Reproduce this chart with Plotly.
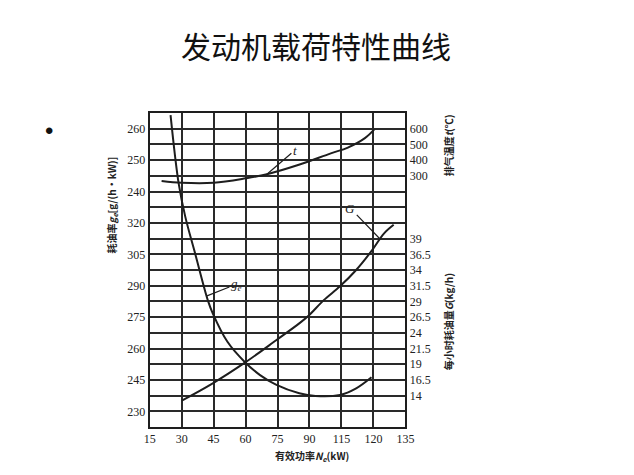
import plotly.graph_objects as go

# ---- data ----
x_ticks = [15, 30, 45, 60, 75, 90, 105, 120, 135]
x_ticktext = ["15", "30", "45", "60", "75", "90", "115", "120", "135"]

# exhaust temperature t (°C) vs effective power (kW)
t_power = [20.6, 30, 45, 60, 70, 85, 100, 108, 116, 120.4]
t_temp = [267, 256, 256, 284, 310, 370, 443, 480, 540, 596]

# specific fuel consumption ge (g/(kW·h))
ge_power = [24.8, 28.6, 31.7, 36.3, 42.3, 44.6, 51.5, 59.5, 66.8, 74.5, 85.2, 92.8, 104.3, 111.9, 119.1]
ge_value = [371.5, 338.9, 323, 305.5, 283, 276.8, 263.2, 253.7, 247.3, 242.6, 238.6, 237.3, 237.8, 241, 246.3]

# hourly fuel consumption G (kg/h)
G_power = [30.1, 44.6, 59.5, 74.5, 85.2, 89.8, 96.7, 104.3, 111.9, 119.5, 124.9, 129.5]
G_value = [13.2, 15.95, 19.2, 22.85, 25.5, 26.8, 29.2, 31.4, 34, 37.2, 39.8, 41.2]

left_tickvals = [230, 245, 260, 275, 290, 305, 320, 335, 350, 365]
left_ticktext = ["230", "245", "260", "275", "290", "305", "320", "240", "250", "260"]

right_tickvals = [11.5, 14, 16.5, 19, 21.5, 24, 26.5, 29, 31.5, 34, 36.5, 39, 41.5, 44, 46.5, 49, 51.5, 54, 56.5]
right_ticktext = ["", "14", "16.5", "19", "21.5", "24", "26.5", "29", "31.5", "34", "36.5", "39",
                  "", "", "", "300", "400", "500", "600"]

# page body margin compensation (figure is drawn 8px in from the page corner)
OX, OY = 8, 8
FW, FH = 626, 459


def xp(px):
    return (px - OX) / FW


def yp(py):
    return 1 - (py - OY) / FH


L, R, T, B = 147, 409, 113, 427
dom_x = [xp(L), xp(R)]
dom_y = [yp(B), yp(T)]

LINE = "#1e1e1e"
GRID = "#2a2a2a"
serif = "Liberation Serif, DejaVu Serif, serif"
cjk = "Noto Sans CJK SC"

fig = go.Figure()
fig.add_trace(go.Scatter(x=t_power, y=t_temp, mode="lines", line=dict(color=LINE, width=2, shape="spline"),
                         yaxis="y3", showlegend=False, hoverinfo="skip"))
fig.add_trace(go.Scatter(x=ge_power, y=ge_value, mode="lines", line=dict(color=LINE, width=2, shape="spline"),
                         yaxis="y", showlegend=False, hoverinfo="skip"))
fig.add_trace(go.Scatter(x=G_power, y=G_value, mode="lines", line=dict(color=LINE, width=2, shape="spline"),
                         yaxis="y2", showlegend=False, hoverinfo="skip"))

tick_font = dict(family=serif, size=12, color="#222")
fig.update_layout(
    width=FW, height=FH,
    margin=dict(l=0, r=0, t=0, b=0),
    paper_bgcolor="white", plot_bgcolor="white",
    showlegend=False,
    xaxis=dict(domain=dom_x, range=[15, 135], tickmode="array", tickvals=x_ticks, ticktext=x_ticktext,
               showgrid=True, gridcolor=GRID, gridwidth=1.6, zeroline=False,
               showline=True, linecolor=LINE, linewidth=2, mirror=True, ticks="",
               tickfont=tick_font),
    yaxis=dict(domain=dom_y, range=[222.5, 372.5], tickmode="array", tickvals=left_tickvals,
               ticktext=left_ticktext, showgrid=False, zeroline=False,
               showline=True, linecolor=LINE, linewidth=2, ticks="",
               tickfont=tick_font),
    yaxis2=dict(domain=dom_y, range=[9, 59], overlaying="y", side="right", tickmode="array",
                tickvals=right_tickvals, ticktext=right_ticktext, showgrid=True, gridcolor=GRID,
                gridwidth=1.6, zeroline=False, showline=True, linecolor=LINE, linewidth=2, ticks="",
                tickfont=tick_font),
    yaxis3=dict(domain=dom_y, range=[-1300, 700], overlaying="y", visible=False),
)

ann_font = dict(family=serif, size=13, color="#222")
# curve labels with leader lines
fig.add_annotation(x=70, y=310, yref="y3", text="<i>t</i>", showarrow=True, arrowhead=0,
                   arrowwidth=1.2, arrowcolor=LINE, ax=28, ay=-24, font=ann_font)
fig.add_annotation(x=123.2, y=38.9, yref="y2", text="<i>G</i>", showarrow=True, arrowhead=0,
                   arrowwidth=1.2, arrowcolor=LINE, ax=-30, ay=-31, font=ann_font)
fig.add_annotation(x=41.6, y=285, yref="y", text="<i>g<sub>e</sub></i>", showarrow=True, arrowhead=0,
                   arrowwidth=1.2, arrowcolor=LINE, ax=30, ay=-12, font=ann_font)

lab_font = dict(family=cjk, size=10, color="#222", weight="bold")


def paper_text(px, py, text, font, angle=0):
    fig.add_annotation(xref="paper", yref="paper", x=xp(px), y=yp(py), xanchor="center",
                       yanchor="middle", showarrow=False, text=text, font=font, textangle=angle)


paper_text(313, 456, "有效功率<i>N<sub>e</sub></i>(kW)", lab_font)
paper_text(108, 205, "耗油率<i>g<sub>e</sub></i>[g/(h·kW)]", lab_font, -90)
paper_text(453, 145, "排气温度<i>t</i>(℃)", lab_font, -90)
paper_text(453, 322, "每小时耗油量<i>G</i>(kg/h)", lab_font, -90)

paper_text(317, 45, "发动机载荷特性曲线", dict(family=cjk, size=30, color="#111"))
paper_text(44, 131, "•", dict(family="Liberation Sans, Arial", size=24, color="#111"))

fig.write_html("out.html")
